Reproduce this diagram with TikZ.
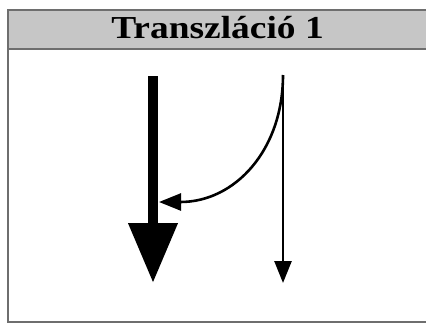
\documentclass[tikz,border=0pt]{standalone}
\usepackage{fontspec}
\setmainfont{Liberation Serif}
\usetikzlibrary{arrows.meta}
\definecolor{hdrfill}{HTML}{C6C6C6}
\definecolor{frameline}{HTML}{6E6E6E}
\tikzset{
  frame/.style={draw=frameline, line width=2pt},
  thickarrow/.style={line width=10.5pt, -{Triangle[width=47pt,length=60pt]}},
  thinarrow/.style={line width=2.6pt, -{Triangle[width=17pt,length=22pt]}},
}
\begin{document}
\begin{tikzpicture}[x=1pt,y=-1pt]
\useasboundingbox (0,0) rectangle (426,324);
\clip (0,0) rectangle (426,324);
\fill[white] (0,0) rectangle (426,324);
\draw[frame] (7.5,9.5) rectangle (440,322);
\draw[frame, fill=hdrfill] (7.5,9.5) rectangle (440,48.5);
\node[font=\fontsize{32}{34}\selectfont\bfseries, inner sep=0pt, anchor=base, xscale=1.17] (title) at (217.5,38.5) {Transzláció 1};
\coordinate (a1s) at (153,76);
\coordinate (a1e) at (153,283);
\coordinate (a2s) at (283,75);
\coordinate (a2e) at (283,283);
\coordinate (ce) at (159,202);
\draw[thickarrow] (a1s) -- (a1e);
\draw[thinarrow] (a2s) -- (a2e);
\draw[thinarrow] (a2s) .. controls (283,150) and (235,202) .. (ce);
\end{tikzpicture}
\end{document}
